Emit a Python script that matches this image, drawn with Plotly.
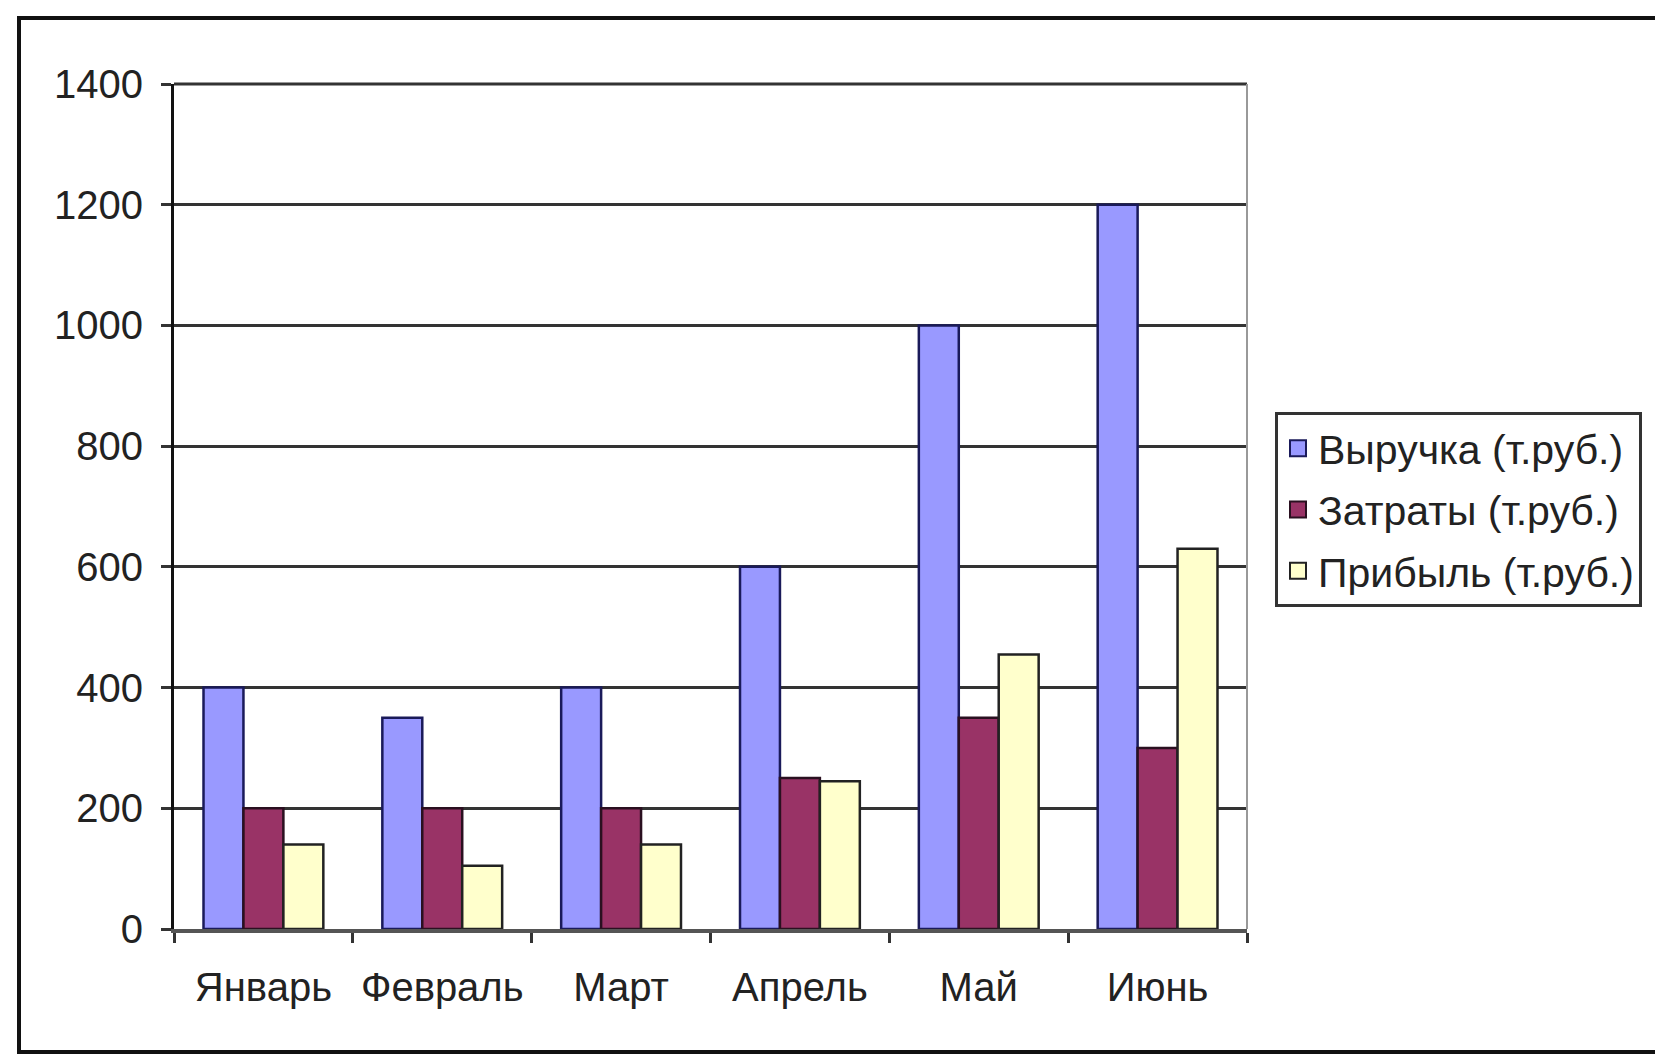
import plotly.graph_objects as go

months = ["Январь", "Февраль", "Март", "Апрель", "Май", "Июнь"]
revenue = [400, 350, 400, 600, 1000, 1200]
costs = [200, 200, 200, 250, 350, 300]
profit = [140, 105, 140, 245, 455, 630]

series = [
    ("Выручка (т.руб.)", revenue, "#9999FF", "#1a1a5a"),
    ("Затраты (т.руб.)", costs, "#993366", "#2a1020"),
    ("Прибыль (т.руб.)", profit, "#FFFFCC", "#222"),
]

W, H = 1655, 1056
L, R, T, B = 174, 1247, 84, 929
pw, ph = R - L, B - T


def px_x(x):
    return (x - L) / pw


def px_y(y):
    return (B - y) / ph


fig = go.Figure()
for i, (name, vals, col, edge) in enumerate(series):
    fig.add_trace(go.Bar(
        x=months, y=vals, name=name, showlegend=False,
        marker=dict(color=col, line=dict(color=edge, width=2.5)),
    ))
# legend entries with bigger square swatches, like the Excel legend
for i, (name, vals, col, edge) in enumerate(series):
    fig.add_trace(go.Scatter(
        x=[None], y=[None], name=name, mode="markers", legendgroup=str(i),
        marker=dict(symbol="square", size=16, color=col, line=dict(color=edge, width=2)),
    ))

font = dict(family="Liberation Sans, Arial, sans-serif", size=40, color="#222")

fig.update_layout(
    width=W, height=H,
    margin=dict(l=L, r=W - R, t=T, b=H - B),
    paper_bgcolor="white", plot_bgcolor="white",
    font=font,
    barmode="group", bargap=0.33, bargroupgap=0,
    showlegend=True,
    legend=dict(
        x=px_x(1275), y=px_y(412), xanchor="left", yanchor="top",
        bordercolor="#333", borderwidth=3, bgcolor="white",
        font=dict(font, size=41), tracegroupgap=5, itemsizing="trace", itemwidth=30,
    ),
    xaxis=dict(
        showline=True, linecolor="#555", linewidth=4,
        ticks="outside", tickson="boundaries", ticklen=10, tickwidth=3, tickcolor="#333",
        showgrid=False, ticklabelstandoff=20,
    ),
    yaxis=dict(
        range=[0, 1400], dtick=200, tick0=0,
        showline=True, linecolor="#111", linewidth=3,
        ticks="outside", ticklen=10, tickwidth=3, tickcolor="#333",
        showgrid=True, gridcolor="#333", gridwidth=3,
        zeroline=False, ticklabelstandoff=10,
    ),
    shapes=[
        # top gridline at 1400
        dict(type="line", xref="paper", yref="paper", x0=0, x1=1, y0=1, y1=1,
             line=dict(color="#333", width=3)),
        # right edge of the plot area
        dict(type="line", xref="paper", yref="paper", x0=1, x1=1, y0=0, y1=1,
             line=dict(color="#999", width=2)),
        # outer chart frame
        dict(type="rect", xref="paper", yref="paper",
             x0=px_x(19), x1=px_x(1675), y0=px_y(1052), y1=px_y(18),
             line=dict(color="#111", width=4)),
    ],
)

fig.write_html("out.html", config={"displayModeBar": False},
               post_script="document.body.style.margin='0';")
